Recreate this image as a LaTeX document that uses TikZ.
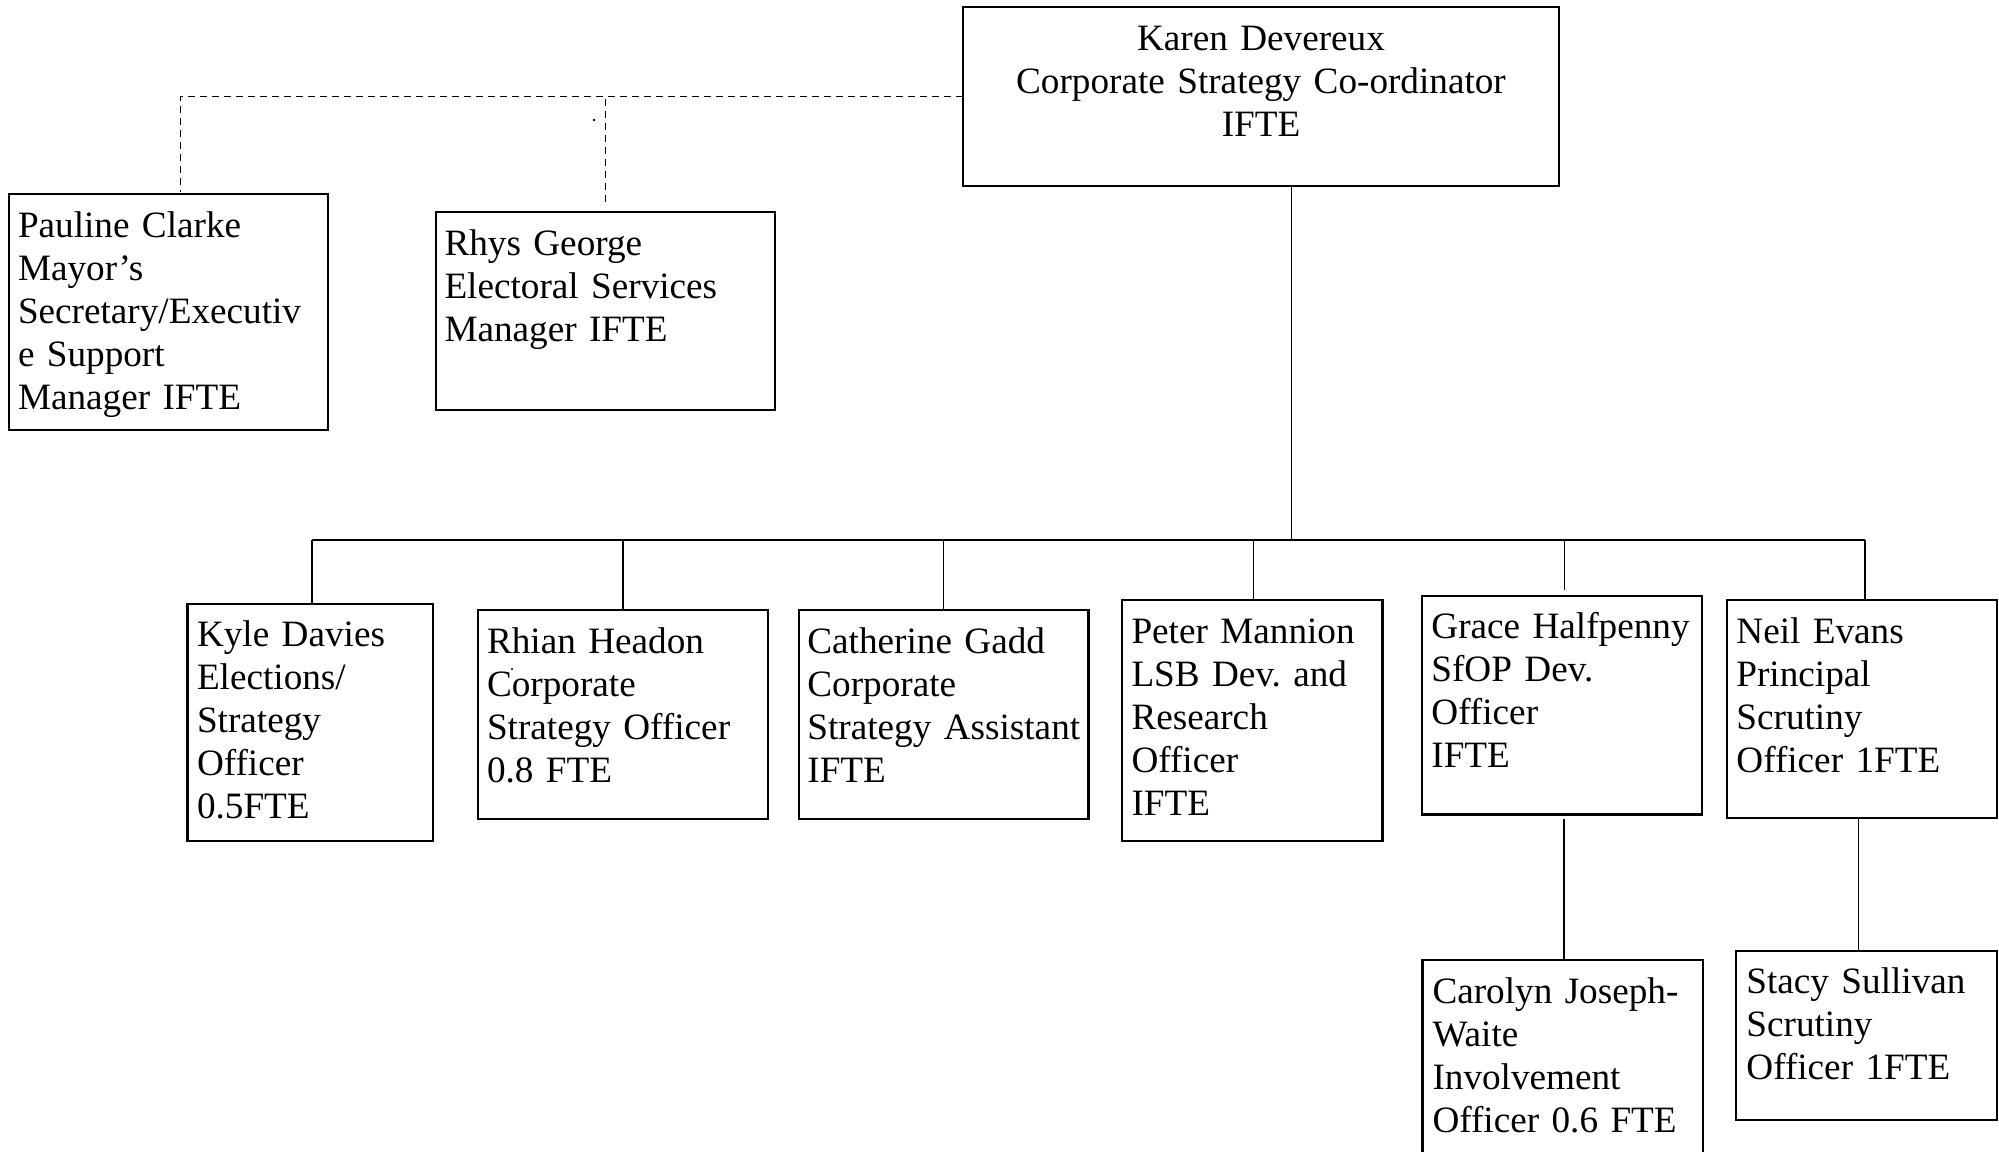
\documentclass[tikz,border=0pt]{standalone}
\usepackage{fontspec}
\setmainfont{Liberation Serif}
\usetikzlibrary{calc}
\frenchspacing
\begin{document}
\begin{tikzpicture}[x=1pt,y=-1pt,
  box/.style={draw, line width=2.4pt, rectangle, inner sep=0pt, outer sep=0pt, anchor=north west},
  txt/.style={anchor=base west, inner sep=0pt, outer sep=0pt, align=left, text width=420pt,
              font=\fontsize{37.2pt}{43pt}\selectfont\frenchspacing},
  ctxt/.style={anchor=base, inner sep=0pt, outer sep=0pt, align=center, text width=580pt,
              font=\fontsize{37.2pt}{43pt}\selectfont\frenchspacing},
  conn/.style={line width=1.4pt},
  dashline/.style={line width=1.4pt, dash pattern=on 7pt off 5pt}]
\useasboundingbox (0,0) rectangle (1999,1151);
\fill[white] (0,0) rectangle (1999,1151);
\clip (0,0) rectangle (1999,1151);

% boxes
\node[box, minimum width=596pt, minimum height=178.7pt] (kd) at (963,7) {};
\node[box, minimum width=319pt, minimum height=236pt] (pc) at (9,194) {};
\node[box, minimum width=339pt, minimum height=198.3pt] (rg) at (436,211.7) {};
\node[box, minimum width=245.4pt, minimum height=236.7pt] (ky) at (187.6,604) {};
\node[box, minimum width=290.2pt, minimum height=209pt] (rh) at (477.8,610) {};
\node[box, minimum width=289.5pt, minimum height=209pt] (cg) at (799,610) {};
\node[box, minimum width=260.8pt, minimum height=241pt] (pm) at (1121.8,600) {};
\node[box, minimum width=279.8pt, minimum height=218.3pt] (gh) at (1422.2,596) {};
\node[box, minimum width=270.3pt, minimum height=218pt] (ne) at (1726.7,600) {};
\node[box, minimum width=280.4pt, minimum height=230pt] (cj) at (1422.6,960) {};
\node[box, minimum width=261pt, minimum height=169pt] (ss) at (1735.7,951) {};

% texts
\node[ctxt] (kd-t) at ($(kd.north)+(0,43.5)$) {Karen Devereux\\Corporate Strategy Co-ordinator\\IFTE};
\node[txt] (pc-t) at ($(pc.north west)+(9,43)$) {Pauline Clarke\\Mayor’s\\Secretary/Executiv\\e Support\\Manager IFTE};
\node[txt] (rg-t) at ($(rg.north west)+(8.5,43.3)$) {Rhys George\\Electoral Services\\Manager IFTE};
\node[txt] (ky-t) at ($(ky.north west)+(9.4,42.7)$) {Kyle Davies\\Elections/\\Strategy\\Officer\\0.5FTE};
\node[txt] (rh-t) at ($(rh.north west)+(9.2,43.3)$) {Rhian Headon\\Corporate\\Strategy Officer\\0.8 FTE};
\node[txt] (cg-t) at ($(cg.north west)+(8.4,43.3)$) {Catherine Gadd\\Corporate\\Strategy Assistant\\IFTE};
\node[txt] (pm-t) at ($(pm.north west)+(9.7,43.3)$) {Peter Mannion\\LSB Dev. and\\Research\\Officer\\IFTE};
\node[txt] (gh-t) at ($(gh.north west)+(9.2,42.3)$) {Grace Halfpenny\\SfOP Dev.\\Officer\\IFTE};
\node[txt] (ne-t) at ($(ne.north west)+(9.7,43.3)$) {Neil Evans\\Principal\\Scrutiny\\Officer 1FTE};
\node[txt] (cj-t) at ($(cj.north west)+(9.9,43.3)$) {Carolyn Joseph-\\Waite\\Involvement\\Officer 0.6 FTE};
\node[txt] (ss-t) at ($(ss.north west)+(10.7,42.3)$) {Stacy Sullivan\\Scrutiny\\Officer 1FTE};

% solid connectors
\coordinate (kdo) at ($(kd.south)+(30.5,0)$);
\coordinate (bl) at ($(ky.north)+(1.7,-64)$);
\coordinate (br) at ($(ne.north)+(3,-60)$);
\draw[conn] (bl) -- (br);
\draw[conn] (kdo) -- (kdo |- bl);
\draw[conn] (ky.north -| bl) -- (bl);
\draw[conn] (rh.north) -- (rh.north |- bl);
\draw[conn] (cg.north) -- (cg.north |- bl);
\draw[conn] ($(pm.north)+(1.5,0)$) -- ($(pm.north |- bl)+(1.5,0)$);
\coordinate (ghu) at ($(gh.north)+(2.3,0)$);
\draw[conn, shorten <=6pt] (ghu) -- (ghu |- bl);
\draw[conn] (ne.north -| br) -- (br);
\coordinate (ghd) at ($(gh.south)+(2,0)$);
\draw[conn, shorten <=5pt] (ghd) -- (ghd |- cj.north);
\coordinate (nd) at ($(ne.south)+(-3.4,0)$);
\draw[conn] (nd) -- (nd |- ss.north);

% dashed connectors
\coordinate (pcd) at ($(pc.north)+(12,-2)$);
\draw[dashline] (kd.west) -| (pcd);
\draw[dashline, shorten <=10pt] (rg.north) -- (rg.north |- kd.west);

% stray marks
\fill (594,120) circle (1.3);
\fill (512,669) circle (1.1);
\end{tikzpicture}
\end{document}
